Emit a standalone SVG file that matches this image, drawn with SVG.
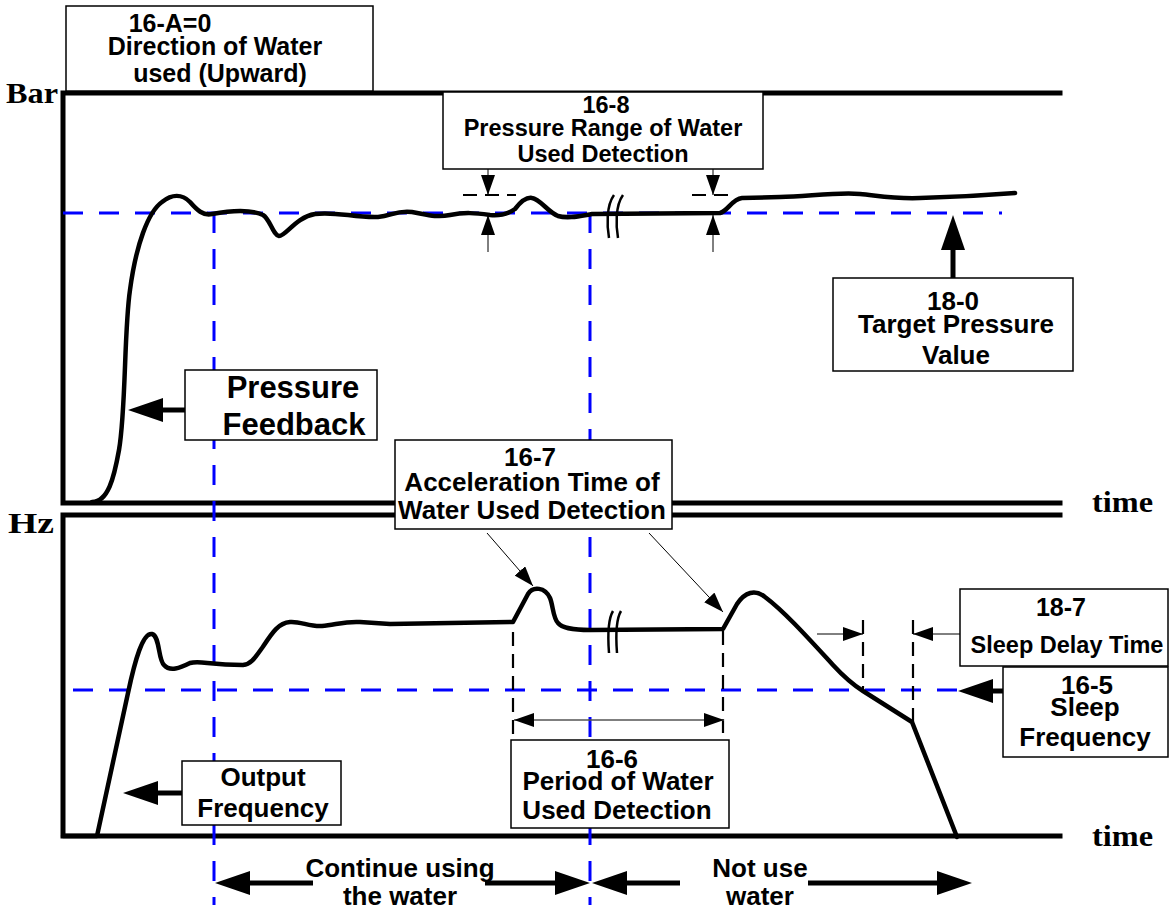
<svg xmlns="http://www.w3.org/2000/svg" width="1173" height="910" viewBox="0 0 1173 910">
<style>
.axis{stroke:#000;stroke-width:5;fill:none;stroke-linecap:square}
.curve{stroke:#000;stroke-width:4.5;fill:none;stroke-linejoin:round;stroke-linecap:round}
.blue{stroke:#0000ff;stroke-width:3;fill:none;stroke-dasharray:20 16}
.bdash{stroke:#000;stroke-width:2.2;fill:none;stroke-dasharray:14 8}
.thin{stroke:#000;stroke-width:1;fill:none}
.gray{stroke:#555;stroke-width:1.5;fill:none}
.thick{stroke:#000;stroke-width:5;fill:none}
.brk{stroke:#000;stroke-width:2.5;fill:none}
.box{fill:#fff;stroke:#000;stroke-width:1.5}
.t{font-family:"Liberation Sans",Arial,sans-serif;font-weight:bold;fill:#000;text-anchor:middle}
.s{font-family:"Liberation Serif","Times New Roman",serif;font-weight:bold;fill:#000}
</style>
<defs>
<marker id="big" markerUnits="userSpaceOnUse" viewBox="0 0 35 24" markerWidth="35" markerHeight="24" refX="0" refY="12" orient="auto"><path d="M0,0 L35,12 L0,24 z" fill="#000"/></marker>
<marker id="small" markerUnits="userSpaceOnUse" viewBox="0 0 20 14" markerWidth="20" markerHeight="14" refX="20" refY="7" orient="auto-start-reverse"><path d="M0,0 L20,7 L0,14 z" fill="#000"/></marker>
</defs>
<rect width="1173" height="910" fill="#fff"/>

<g id="axes">
<path class="axis" d="M63 93 H1060 M63 93 V503 H1060"/>
<path class="axis" d="M63 836 V515 H1060 M63 836 H1060"/>
<text class="s" x="6" y="103" font-size="29" textLength="52" lengthAdjust="spacingAndGlyphs">Bar</text>
<text class="s" x="8" y="533" font-size="29" textLength="46" lengthAdjust="spacingAndGlyphs">Hz</text>
<text class="s" x="1092" y="512" font-size="30" textLength="61" lengthAdjust="spacingAndGlyphs">time</text>
<text class="s" x="1092" y="846" font-size="30" textLength="61" lengthAdjust="spacingAndGlyphs">time</text>
</g>

<g id="reference-lines">
<path class="blue" d="M63 213 H1002"/>
<path class="blue" d="M73 690 H957"/>
<path class="blue" d="M214 213 V905"/>
<path class="blue" d="M590 213 V905"/>
</g>

<g id="curves">
<path class="curve" d="M92 502 C108 502,114 478,119 450 C126 410,124 330,130 290 C136 245,148 212,162 202 C172 194,182 194,190 202 C197 210,203 216,212 214 C228 211,250 209,263 215 C270 219,273 235,279 236 C286 236,296 217,315 214 C335 211,355 218,378 217 C392 216,396 210,412 212 C425 214,435 218,450 215 C465 212,475 213,490 215 C500 216,508 214,515 209 C522 200,527 197,532 198 C540 199,548 212,558 216 C568 219,580 216,592 214 L720 213 C728 211,732 199,742 198 L780 197 C810 196,840 192,860 194 C880 196,895 199,920 198 C960 197,990 195,1015 193"/>
<path class="curve" d="M63 836 H97 L128 693 C135 660,143 632,152 634 C160 636,158 660,164 665 C170 672,180 668,190 663 C200 660,208 665,243 665 C252 664,256 656,262 648 C272 633,278 623,290 622 C300 621,310 627,322 626 C335 625,345 621,360 622 L390 624 L513 622 L528 594 C533 586,545 587,550 598 C553 605,553 618,558 623 C562 628,572 630,590 630 L723 629 L737 604 C745 592,755 589,765 597 C785 612,810 640,833 665 C845 678,855 686,863 691 L912 722 L957 837"/>
<path class="brk" d="M614 195 C606 206,607 226,609 238 M623 195 C615 206,616 226,618 238"/>
<path class="brk" d="M613 611 C607 621,608 640,609 653 M621 611 C615 621,616 640,617 653"/>
</g>

<g id="connectors">
<path class="thin" d="M488 169 V195" marker-end="url(#small)"/>
<path class="thin" d="M488 252 V215" marker-end="url(#small)"/>
<path class="thin" d="M713 169 V195" marker-end="url(#small)"/>
<path class="thin" d="M713 252 V215" marker-end="url(#small)"/>
<path class="bdash" d="M463 195 H516 M692 195 H731"/>
<path class="thick" d="M953 278 V250" marker-end="url(#big)"/>
<path class="thick" d="M185 410 H163" marker-end="url(#big)"/>
<path class="thick" d="M182 793 H158" marker-end="url(#big)"/>
<path class="thick" d="M1003 691 H993" marker-end="url(#big)"/>
<path class="thin" d="M487 533 L533 586" marker-end="url(#small)"/>
<path class="thin" d="M649 533 L723 612" marker-end="url(#small)"/>
<path class="bdash" d="M513 632 V740 M723 631 V740 M863 620 V690 M913 620 V722"/>
<path class="gray" d="M514 720 H724" marker-start="url(#small)" marker-end="url(#small)"/>
<path class="thin" d="M817 634 H863" marker-end="url(#small)"/>
<path class="thin" d="M960 634 H913" marker-end="url(#small)"/>
<path class="thick" d="M313 883 H250" marker-end="url(#big)"/>
<path class="thick" d="M485 883 H555" marker-end="url(#big)"/>
<path class="thick" d="M680 883 H627" marker-end="url(#big)"/>
<path class="thick" d="M808 883 H937" marker-end="url(#big)"/>
</g>

<g id="box-16A">
<rect class="box" x="66" y="6" width="307" height="85"/>
<text class="t" x="170" y="32" font-size="25">16-A=0</text>
<text class="t" x="215" y="55" font-size="25">Direction of Water</text>
<text class="t" x="220" y="82" font-size="25">used (Upward)</text>
</g>

<g id="box-16-8">
<rect class="box" x="443" y="92" width="320" height="77"/>
<text class="t" x="606" y="113" font-size="23.5">16-8</text>
<text class="t" x="603" y="136" font-size="23.5">Pressure Range of Water</text>
<text class="t" x="603" y="162" font-size="23.5">Used Detection</text>
</g>

<g id="box-18-0">
<rect class="box" x="833" y="278" width="240" height="93"/>
<text class="t" x="953" y="310" font-size="26">18-0</text>
<text class="t" x="956" y="333" font-size="26">Target Pressure</text>
<text class="t" x="956" y="364" font-size="26">Value</text>
</g>

<g id="box-pressure-feedback">
<rect class="box" x="185" y="370" width="192" height="70"/>
<text class="t" x="293" y="398" font-size="31">Pressure</text>
<text class="t" x="294" y="435" font-size="31">Feedback</text>
</g>

<g id="box-16-7">
<rect class="box" x="395" y="440" width="277" height="89"/>
<text class="t" x="530" y="466" font-size="26">16-7</text>
<text class="t" x="532" y="491" font-size="26">Acceleration Time of</text>
<text class="t" x="532" y="519" font-size="26">Water Used Detection</text>
</g>

<g id="box-18-7">
<rect class="box" x="960" y="589" width="208" height="77"/>
<text class="t" x="1061" y="616" font-size="25">18-7</text>
<text class="t" x="1067" y="653" font-size="23.5">Sleep Delay Time</text>
</g>

<g id="box-16-5">
<rect class="box" x="1003" y="667" width="165" height="90"/>
<text class="t" x="1087" y="694" font-size="26">16-5</text>
<text class="t" x="1085" y="716" font-size="26">Sleep</text>
<text class="t" x="1085" y="746" font-size="26">Frequency</text>
</g>

<g id="box-16-6">
<rect class="box" x="511" y="740" width="218" height="88"/>
<text class="t" x="612" y="768" font-size="26">16-6</text>
<text class="t" x="618" y="790" font-size="26">Period of Water</text>
<text class="t" x="617" y="819" font-size="26">Used Detection</text>
</g>

<g id="box-output-frequency">
<rect class="box" x="182" y="761" width="159" height="64"/>
<text class="t" x="263" y="786" font-size="26">Output</text>
<text class="t" x="263" y="817" font-size="26">Frequency</text>
</g>

<g id="labels">
<text class="t" x="400" y="877" font-size="26">Continue using</text>
<text class="t" x="400" y="905" font-size="26">the water</text>
<text class="t" x="760" y="877" font-size="26">Not use</text>
<text class="t" x="760" y="905" font-size="26">water</text>
</g>
</svg>
